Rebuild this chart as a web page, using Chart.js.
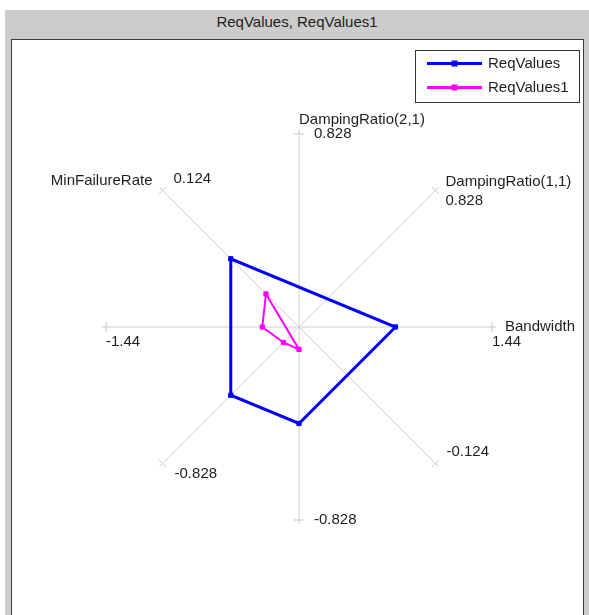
<!DOCTYPE html>
<html>
<head>
<meta charset="utf-8">
<title>ReqValues, ReqValues1</title>
<script src="https://cdn.jsdelivr.net/npm/chart.js@4"></script>
<style>
    html, body { margin: 0; padding: 0; background: #fff; }
    body { position: relative; width: 589px; height: 615px; overflow: hidden; font-family: "Liberation Sans", Arial, sans-serif; }
    .frame { position: absolute; left: 5px; top: 10px; width: 584px; height: 605px; background: #cccccc; }
    .frame-title { position: absolute; left: 5px; top: 11px; width: 584px; height: 22px; line-height: 22px;
                   text-align: center; font-size: 15px; color: #1e1e1e; }
    .panel { position: absolute; left: 11px; top: 39px; width: 571px; height: 590px; background: #fff; border: 1px solid #3c3c3c; }
    #chart-radar { position: absolute; left: 0; top: 0; }
</style>
</head>
<body>
<div class="frame"></div>
<div class="frame-title">ReqValues, ReqValues1</div>
<div class="panel"></div>
<canvas id="chart-radar" width="589" height="615"></canvas>

<script>
// ── Axes: each one runs through the centre, positive end at the given angle ──
const AXIS_NAMES  = ["Bandwidth", "DampingRatio(1,1)", "DampingRatio(2,1)", "MinFailureRate"];
const AXIS_MAX    = [1.44, 0.828, 0.828, 0.124];
const AXIS_ANGLES = [0, 45, 90, 135];          // degrees, counter-clockwise from the right

// ── Series ──
const SERIES_NAMES = ["ReqValues", "ReqValues1"];
const REQ_VALUES   = [0.72, -0.414, -0.414, 0.062];
const REQ_VALUES1  = [-0.274, -0.094, -0.096, 0.030];

const FONT = "15px 'Liberation Sans', Arial, sans-serif";
const TEXT_COLOR = "#1e1e1e";

// radar spokes start at the top and go clockwise in 45° steps
const SPOKES = 8;
const spokeOf = deg => (((90 - deg) / 45) % SPOKES + SPOKES) % SPOKES;
const posSpoke = a => spokeOf(AXIS_ANGLES[a]);
const negSpoke = a => (posSpoke(a) + 4) % SPOKES;

const spokeLabels = new Array(SPOKES).fill("");
AXIS_NAMES.forEach((n, a) => {
    spokeLabels[posSpoke(a)] = n;
    spokeLabels[negSpoke(a)] = "-" + n;
});

// one value per axis -> fraction of the axis length on the matching spoke
function toSpokes(values) {
    const out = new Array(SPOKES).fill(null);
    values.forEach((v, a) => {
        const idx = v >= 0 ? posSpoke(a) : negSpoke(a);
        out[idx] = Math.abs(v) / AXIS_MAX[a];
    });
    return out;
}

// text placement around each spoke end: [dx, dy] for the axis name and the end value
const NAME_OFFSET = {
    0: [0, -14, "left"],
    1: [10, -9, "left"],
    2: [13, 0, "left"],
    7: [-10, -10, "right"],
};
const VALUE_OFFSET = {
    0: [15, 0], 1: [10, 10], 2: [0, 15], 3: [11, -12],
    4: [15, 0], 5: [12, 10], 6: [0, 15], 7: [11, -12],
};

const axisDecor = {
    id: "axisDecor",
    afterDatasetsDraw(chart) {
        const scale = chart.scales.r;
        const ctx = chart.ctx;
        ctx.save();

        // small crosses at both ends of every axis
        ctx.strokeStyle = "#c4c4c4";
        ctx.lineWidth = 1;
        for (let i = 0; i < SPOKES; i++) {
            const p = scale.getPointPositionForValue(i, 1);
            const ux = Math.cos(p.angle), uy = Math.sin(p.angle);
            ctx.beginPath();
            ctx.moveTo(p.x - uy * 5, p.y + ux * 5);
            ctx.lineTo(p.x + uy * 5, p.y - ux * 5);
            ctx.moveTo(p.x, p.y);
            ctx.lineTo(p.x + ux * 4, p.y + uy * 4);
            ctx.stroke();
        }

        ctx.font = FONT;
        ctx.fillStyle = TEXT_COLOR;
        ctx.textBaseline = "middle";
        AXIS_NAMES.forEach((name, a) => {
            const ps = posSpoke(a), ns = negSpoke(a);
            const pp = scale.getPointPositionForValue(ps, 1);
            const np = scale.getPointPositionForValue(ns, 1);
            const no = NAME_OFFSET[ps];
            ctx.textAlign = no[2];
            ctx.fillText(name, pp.x + no[0], pp.y + no[1]);
            ctx.textAlign = "left";
            const vo = VALUE_OFFSET[ps], vn = VALUE_OFFSET[ns];
            ctx.fillText(String(AXIS_MAX[a]), pp.x + vo[0], pp.y + vo[1]);
            ctx.fillText("-" + AXIS_MAX[a], np.x + vn[0], np.y + vn[1]);
        });
        ctx.restore();
    },
    afterDraw(chart) {
        // boxed legend, top right
        const ctx = chart.ctx;
        const box = { x: 415.5, y: 50.5, w: 164, h: 52 };
        ctx.save();
        ctx.strokeStyle = "#333";
        ctx.lineWidth = 1;
        ctx.strokeRect(box.x, box.y, box.w, box.h);
        ctx.font = FONT;
        ctx.textBaseline = "middle";
        ctx.textAlign = "left";
        chart.data.datasets.forEach((ds, i) => {
            const y = 63.5 + i * 24;
            ctx.strokeStyle = ds.borderColor;
            ctx.lineWidth = 3;
            ctx.beginPath();
            ctx.moveTo(427, y);
            ctx.lineTo(482, y);
            ctx.stroke();
            ctx.fillStyle = ds.borderColor;
            ctx.fillRect(451.5, y - 3, 6, 6);
            ctx.fillStyle = TEXT_COLOR;
            ctx.fillText(ds.label, 488, y);
        });
        ctx.restore();
    }
};

new Chart(document.getElementById("chart-radar"), {
    type: "radar",
    data: {
        labels: spokeLabels,
        datasets: [
            {
                label: SERIES_NAMES[0],
                data: toSpokes(REQ_VALUES),
                borderColor: "#0000ff", backgroundColor: "#0000ff",
                borderWidth: 3, fill: false, spanGaps: true,
                pointStyle: "rect", pointRadius: 3, pointBorderWidth: 1,
            },
            {
                label: SERIES_NAMES[1],
                data: toSpokes(REQ_VALUES1),
                borderColor: "#ff00ff", backgroundColor: "#ff00ff",
                borderWidth: 2, fill: false, spanGaps: true,
                pointStyle: "rect", pointRadius: 3, pointBorderWidth: 1,
            }
        ]
    },
    options: {
        responsive: false,
        animation: false,
        devicePixelRatio: 1,
        layout: { padding: { left: 106, top: 134, right: 97, bottom: 95 } },
        plugins: {
            legend: { display: false },
            title: { display: false },
            tooltip: { enabled: false }
        },
        scales: {
            r: {
                min: 0, max: 1,
                grid: { display: false },
                angleLines: { display: true, color: "#d0d0d0", lineWidth: 1 },
                ticks: { display: false },
                pointLabels: { display: false }
            }
        }
    },
    plugins: [axisDecor]
});
</script>
</body>
</html>
